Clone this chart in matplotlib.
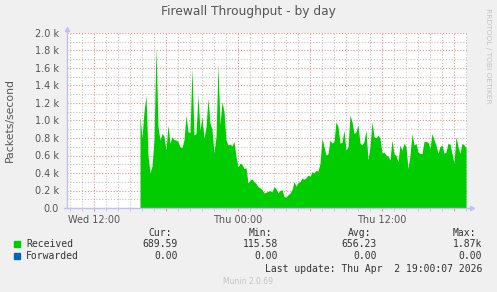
import numpy as np
import matplotlib
matplotlib.use('Agg')
import matplotlib.pyplot as plt
from matplotlib.ticker import MultipleLocator, FixedLocator

########################################################################
# data: packets/second, 10 minute samples from Wed 15:50 to Thu 19:00
start_hour = 15 + 50 / 60.0
step_hour = 10 / 60.0

received = [
    1050, 800, 1100, 1290, 600, 400, 480, 780, 1840, 930,
    777, 850, 820, 663, 950, 740, 815, 780, 777, 760,
    700, 690, 780, 1063, 872, 860, 1596, 834, 850, 1290,
    890, 1043, 796, 930, 1253, 968, 900, 625, 815, 1634,
    950, 1215, 1100, 777, 720, 730, 710, 760, 590, 470,
    510, 500, 450, 460, 285, 320, 330, 300, 280, 244,
    230, 210, 172, 180, 190, 200, 185, 244, 220, 172,
    200, 210, 130, 125, 150, 170, 210, 300, 250, 290,
    300, 339, 330, 345, 377, 360, 415, 400, 430, 420,
    510, 796, 700, 605, 620, 777, 740, 760, 987, 930,
    740, 750, 890, 660, 700, 1063, 987, 850, 870, 950,
    740, 720, 760, 890, 550, 700, 987, 815, 800, 834,
    796, 625, 640, 605, 590, 550, 777, 620, 600, 530,
    720, 660, 740, 700, 450, 605, 850, 720, 740, 640,
    625, 620, 760, 760, 750, 680, 850, 780, 720, 625,
    700, 720, 625, 640, 740, 730, 625, 510, 815, 700,
    625, 740, 720, 690,
]

# axis: Wed 09:45 .. Thu 19:05 in hours from Wed 00:00
x_min, x_max = 9.75, 43.0833
xtick_pos = [12, 24, 36]
xtick_labels = ['Wed 12:00', 'Thu 00:00', 'Thu 12:00']
ytick_pos = [0, 200, 400, 600, 800, 1000, 1200, 1400, 1600, 1800, 2000]
ytick_labels = ['0.0', '0.2 k', '0.4 k', '0.6 k', '0.8 k', '1.0 k',
                '1.2 k', '1.4 k', '1.6 k', '1.8 k', '2.0 k']

legend_names = ['Received', 'Forwarded']
legend_colors = ['#00CC00', '#0066B3']
cur_vals = ['689.59', '0.00']
min_vals = ['115.58', '0.00']
avg_vals = ['656.23', '0.00']
max_vals = ['1.87k', '0.00']

hours = start_hour + step_hour * np.arange(len(received))

################# FIGURE #########################################
bg = '#F0F0F0'
fig = plt.figure(figsize=(4.97, 2.92), dpi=100, facecolor=bg)
ax = fig.add_axes([67 / 497, 1 - 208 / 292, 400 / 497, 175 / 292])
ax.set_facecolor('white')

ax.fill_between(hours, received, 0, color=legend_colors[0], linewidth=0, zorder=3)

ax.set_xlim(x_min, x_max)
ax.set_ylim(0, 2000)

# grid
ax.xaxis.set_major_locator(FixedLocator([12, 18, 24, 30, 36, 42]))
ax.xaxis.set_minor_locator(MultipleLocator(1))
ax.yaxis.set_major_locator(FixedLocator(ytick_pos))
ax.yaxis.set_minor_locator(MultipleLocator(100))
ax.grid(which='minor', color='#C4C4C4', linestyle=(0, (1, 1.6)), linewidth=0.8, zorder=1)
ax.grid(which='major', color='#F09090', linestyle=(0, (1, 1.6)), linewidth=0.8, zorder=2)
ax.set_axisbelow(True)

ax.set_xticklabels(['' if t not in xtick_pos else xtick_labels[xtick_pos.index(t)]
                    for t in [12, 18, 24, 30, 36, 42]])
ax.set_yticklabels(ytick_labels)
ax.tick_params(axis='x', which='major', length=2, color='#F09090', pad=3,
               labelsize=7, labelcolor='#555555')
ax.tick_params(axis='x', which='minor', length=2, color='#C8C8C8')
ax.tick_params(axis='y', which='both', length=0, pad=6, labelsize=7, labelcolor='#555555')

for s in ax.spines.values():
    s.set_visible(False)

# axis lines with arrows
axc = '#C0C0F4'
ax.plot([-0.008, 1.01], [0, 0], transform=ax.transAxes, color=axc, lw=1, clip_on=False, zorder=5)
ax.plot([0, 0], [0, 1.02], transform=ax.transAxes, color=axc, lw=1, clip_on=False, zorder=5)
ax.plot([1.012], [0], transform=ax.transAxes, marker='>', ms=3, color=axc, clip_on=False, zorder=5)
ax.plot([0], [1.025], transform=ax.transAxes, marker='^', ms=3, color=axc, clip_on=False, zorder=5)

################# TEXT #########################################
fig.text(248 / 497, 1 - 12 / 292, 'Firewall Throughput - by day', ha='center', va='center',
         fontsize=8.8, color='#555555')
fig.text(10 / 497, 1 - 120 / 292, 'Packets/second', rotation=90, ha='center', va='center',
         fontsize=7.8, color='#555555')
fig.text(488 / 497, 1 - 56 / 292, 'RRDTOOL / TOBI OETIKER', rotation=270, ha='center', va='center',
         fontsize=5.4, color='#C4C4C4')

mono = 'DejaVu Sans Mono'
tc = '#333333'
fs = 7
col_right = [178, 278, 377, 482]
for xr, h in zip(col_right, ['Cur:', 'Min:', 'Avg:', 'Max:']):
    fig.text((xr - 6) / 497, 1 - 233 / 292, h, ha='right', va='center', family=mono, fontsize=fs, color=tc)

rows_y = [244, 256]
for i, name in enumerate(legend_names):
    y = 1 - rows_y[i] / 292
    fig.patches.append(plt.Rectangle((14 / 497, y - 3 / 292), 6 / 497, 6 / 292,
                                     transform=fig.transFigure, color=legend_colors[i]))
    fig.text(26 / 497, y, name, ha='left', va='center', family=mono, fontsize=fs, color=tc)
    for xr, v in zip(col_right, [cur_vals[i], min_vals[i], avg_vals[i], max_vals[i]]):
        fig.text(xr / 497, y, v, ha='right', va='center', family=mono, fontsize=fs, color=tc)

fig.text(482 / 497, 1 - 269 / 292, 'Last update: Thu Apr  2 19:00:07 2026', ha='right', va='center',
         family=mono, fontsize=fs, color=tc)
fig.text(248 / 497, 1 - 281 / 292, 'Munin 2.0.69', ha='center', va='center',
         fontsize=5.5, color='#C4C4C4')

plt.savefig('out.png', dpi=100, facecolor=bg)
